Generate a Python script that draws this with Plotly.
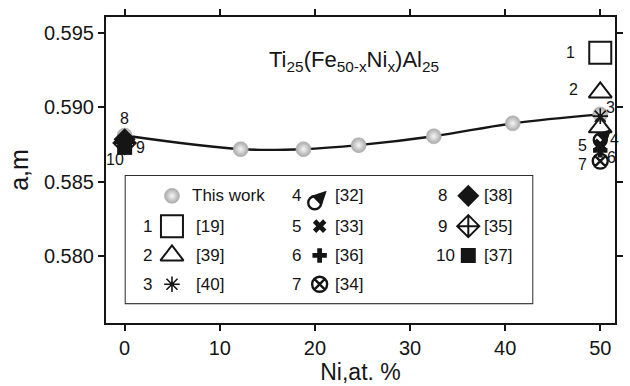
import plotly.graph_objects as go

# Lattice parameter a of Ti25(Fe50-xNix)Al25 versus Ni content
x_this = [0, 12.2, 18.8, 24.6, 32.5, 40.8, 50]
a_this = [0.5881, 0.58718, 0.58718, 0.58745, 0.58805, 0.58892, 0.58952]

# Literature values, numbered 1..10
ref_ids = ["1", "2", "3", "4", "5", "6", "7", "8", "9", "10"]
ref_cites = ["[19]", "[39]", "[40]", "[32]", "[33]", "[36]", "[34]", "[38]", "[35]", "[37]"]
ref_x = [[50], [50, 50], [50], [50], [50], [50], [50], [0], [0], [0]]
ref_a = [[0.59366], [0.5910, 0.58865], [0.5894], [0.5878], [0.58745],
         [0.5871], [0.58638], [0.58785], [0.5876], [0.5873]]

x_ticks = [0, 10, 20, 30, 40, 50]
a_ticks = [0.580, 0.585, 0.590, 0.595]

INK = "#151515"
FONT = "Liberation Sans, Arial, sans-serif"

# marker look of each literature series
styles = {
    "1": dict(symbol="square-open", size=22, line=dict(width=2, color=INK), color=INK),
    "2": dict(symbol="triangle-up-open", size=20, line=dict(width=2, color=INK), color=INK),
    "3": dict(symbol="asterisk-open", size=13, line=dict(width=1.6, color=INK), color=INK),
    "4": dict(symbol="circle-open", size=13, line=dict(width=2.4, color=INK), color=INK),
    "5": dict(symbol="x", size=12, line=dict(width=0), color=INK),
    "6": dict(symbol="cross", size=12, line=dict(width=0), color=INK),
    "7": dict(symbol="circle-x-open", size=15, line=dict(width=2.4, color=INK), color=INK),
    "8": dict(symbol="diamond", size=17, line=dict(width=0), color=INK),
    "9": dict(symbol="diamond-cross-open", size=17, line=dict(width=2, color=INK), color=INK),
    "10": dict(symbol="square", size=15, line=dict(width=0), color=INK),
}
# shaded grey ball: radial gradient, light centre to darker rim
ball = dict(symbol="circle", size=15, color="#a9a9a9",
            gradient=dict(type="radial", color="#f6f6f6"),
            line=dict(width=0.6, color="#b0b0b0"))

# number label offsets (px) next to the plotted points
label_shift = {
    "1": (-30, 0), "2": (-27, 3), "3": (10, 9), "4": (14, 0), "5": (-18, 0),
    "6": (11, -7), "7": (-18, -3), "8": (0, 21), "9": (16, -5), "10": (-10, -12),
}

fig = go.Figure()

# this work: smooth curve through the measured points
fig.add_trace(go.Scatter(
    x=x_this, y=a_this, mode="lines+markers",
    line=dict(color=INK, width=2.4, shape="spline", smoothing=1.0),
    marker=ball, showlegend=False,
))

for rid, xs, ys in zip(ref_ids, ref_x, ref_a):
    fig.add_trace(go.Scatter(x=xs, y=ys, mode="markers", marker=styles[rid],
                             showlegend=False))

annotations = []
for rid, xs, ys in zip(ref_ids, ref_x, ref_a):
    dx, dy = label_shift[rid]
    annotations.append(dict(x=xs[0], y=ys[0], xref="x", yref="y", text=rid,
                            showarrow=False, xshift=dx, yshift=dy,
                            font=dict(size=16, color=INK, family=FONT)))

# arrow of the "male" symbol for series 4
i4 = ref_ids.index("4")
annotations.append(dict(x=ref_x[i4][0], y=ref_a[i4][0], xref="x", yref="y",
                        text="", showarrow=True, arrowhead=2, arrowsize=1.3,
                        arrowwidth=2.2, arrowcolor=INK, ax=-9, ay=9,
                        xshift=11, yshift=11))

# ---------------- legend panel (own hidden axes, px-like units) -------------
LW, LH = 413, 128
col_num = [22, 173, 322]
col_sym = [47, 197, 348]
col_txt = [69, 211, 362]
rows = [20, 50.5, 80, 109]

entries = [("", "This work", None)] + list(zip(ref_ids, ref_cites, ref_ids))
layout_pos = [(0, 0), (0, 1), (0, 2), (0, 3),
              (1, 0), (1, 1), (1, 2), (1, 3),
              (2, 0), (2, 1), (2, 2)]

for (num, cite, rid), (c, r) in zip(entries, layout_pos):
    y = rows[r]
    sx = col_sym[c]
    mk = ball if rid is None else styles[rid]
    if rid == "4":
        fig.add_trace(go.Scatter(x=[sx - 5], y=[y + 7], xaxis="x2", yaxis="y2",
                                 mode="markers", marker=mk, showlegend=False,
                                 hoverinfo="skip"))
        annotations.append(dict(x=sx - 5, y=y + 7, xref="x2", yref="y2", text="",
                                showarrow=True, arrowhead=2, arrowsize=1.3,
                                arrowwidth=2.2, arrowcolor=INK, ax=-9, ay=9,
                                xshift=12, yshift=12))
    else:
        fig.add_trace(go.Scatter(x=[sx], y=[y], xaxis="x2", yaxis="y2",
                                 mode="markers", marker=mk, showlegend=False,
                                 hoverinfo="skip"))
    if num:
        annotations.append(dict(x=col_num[c] + (3 if num == "10" else 0), y=y,
                                xref="x2", yref="y2", text=num, showarrow=False,
                                xanchor="center", yanchor="middle",
                                font=dict(size=17, color=INK, family=FONT)))
    tx = col_txt[c] - (4 if rid is None else 0)
    annotations.append(dict(x=tx, y=y, xref="x2", yref="y2", text=cite,
                            showarrow=False, xanchor="left", yanchor="middle",
                            font=dict(size=17, color=INK, family=FONT)))

# compound formula
annotations.append(dict(
    x=0.487, y=0.91, xref="paper", yref="paper", showarrow=False,
    text="Ti<sub>25</sub>(Fe<sub>50-x</sub>Ni<sub>x</sub>)Al<sub>25</sub>",
    font=dict(size=22, color=INK, family=FONT)))

axis_common = dict(showline=True, linecolor=INK, linewidth=2, mirror="ticks",
                   ticks="outside", ticklen=6, tickwidth=2, tickcolor=INK,
                   showgrid=False, zeroline=False,
                   tickfont=dict(size=20, color=INK, family=FONT))

fig.update_layout(
    width=630, height=386,
    margin=dict(l=106, r=7, t=17, b=61),
    paper_bgcolor="white", plot_bgcolor="white",
    font=dict(family=FONT, color=INK),
    xaxis=dict(range=[-1.96, 51.55], tickvals=x_ticks,
               title=dict(text="Ni,at. %", font=dict(size=23, color=INK, family=FONT),
                          standoff=4),
               **axis_common),
    yaxis=dict(range=[0.57549, 0.59607], tickvals=a_ticks, tickformat=".3f",
               title=dict(text="a,m", font=dict(size=25, color=INK, family=FONT),
                          standoff=8),
               **axis_common),
    xaxis2=dict(domain=[0.0387, 0.8375], anchor="y2", range=[0, LW], visible=False,
                fixedrange=True),
    yaxis2=dict(domain=[0.0649, 0.4805], anchor="x2", range=[LH, 0], visible=False,
                fixedrange=True),
    shapes=[dict(type="rect", xref="x2 domain", yref="y2 domain", x0=0, x1=1,
                 y0=0, y1=1, line=dict(color="#2a2a2a", width=2), layer="below")],
    annotations=annotations,
    showlegend=False,
)

fig.write_html("out.html")
